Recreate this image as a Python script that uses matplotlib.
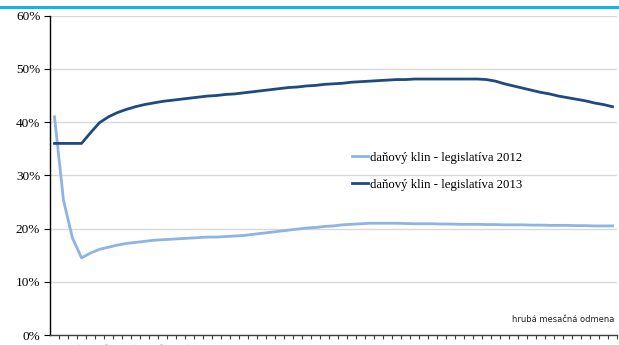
"""
Danovy klin podla hrubej mesacnej odmeny: porovnanie legislativy 2012 a 2013.
Genera el grafico out.png (619x345 px).
"""

import matplotlib
matplotlib.use('Agg')
import matplotlib.pyplot as plt
from matplotlib.ticker import FixedLocator, FuncFormatter

# ==========================================
# DATOS
# ==========================================
# hruba mesacna odmena (EUR), categorias del eje X
ODMENA = list(range(100, 3250, 50))

# danovy klin - legislativa 2012 (%)
KLIN_2012 = [
    41.0, 25.3, 18.2, 14.5, 15.4, 16.1, 16.5, 16.9, 17.2, 17.4,
    17.6, 17.8, 17.9, 18.0, 18.1, 18.2, 18.3, 18.4, 18.4, 18.5,
    18.6, 18.7, 18.9, 19.1, 19.3, 19.5, 19.7, 19.9, 20.1, 20.2,
    20.4, 20.5, 20.7, 20.8, 20.9, 21.0, 21.0, 21.0, 21.0, 20.95,
    20.9, 20.9, 20.9, 20.85, 20.85, 20.8, 20.8, 20.8, 20.75, 20.75,
    20.7, 20.7, 20.7, 20.65, 20.65, 20.6, 20.6, 20.6, 20.55, 20.55,
    20.5, 20.5, 20.5,
]

# danovy klin - legislativa 2013 (%)
KLIN_2013 = [
    36.0, 36.0, 36.0, 36.0, 38.0, 39.9, 41.0, 41.8, 42.4, 42.9,
    43.3, 43.6, 43.9, 44.1, 44.3, 44.5, 44.7, 44.9, 45.0, 45.2,
    45.3, 45.5, 45.7, 45.9, 46.1, 46.3, 46.5, 46.6, 46.8, 46.9,
    47.1, 47.2, 47.3, 47.5, 47.6, 47.7, 47.8, 47.9, 48.0, 48.0,
    48.1, 48.1, 48.1, 48.1, 48.1, 48.1, 48.1, 48.1, 48.0, 47.7,
    47.2, 46.8, 46.4, 46.0, 45.6, 45.3, 44.9, 44.6, 44.3, 44.0,
    43.6, 43.3, 42.9,
]

# ==========================================
# CONSTANTES DE ESTILO
# ==========================================
ETIQUETA_2012 = 'daňový klin - legislatíva 2012'
ETIQUETA_2013 = 'daňový klin - legislatíva 2013'
NOTA_EJE_X = 'hrubá mesačná odmena'

COLOR_2012 = '#8DB4E3'
COLOR_2013 = '#1F4A80'
COLOR_GRID = '#D9D9D9'
COLOR_TITULO = '#14B4E6'
FUENTE = ['Liberation Serif', 'DejaVu Serif']

ARCHIVO_SALIDA = 'out.png'


def generar_grafico():
    """
    Dibuja las dos curvas del danoveho klinu y guarda el PNG.
    """
    plt.rcParams['font.family'] = FUENTE

    fig = plt.figure(figsize=(6.19, 3.45), dpi=100)
    ax = fig.add_axes([50 / 619, 10 / 345, 567 / 619, 319.3 / 345])

    posiciones = list(range(len(ODMENA)))
    ax.plot(posiciones, KLIN_2012, color=COLOR_2012, linewidth=2.0,
            label=ETIQUETA_2012, solid_joinstyle='round')
    ax.plot(posiciones, KLIN_2013, color=COLOR_2013, linewidth=2.0,
            label=ETIQUETA_2013, solid_joinstyle='round')

    ax.set_xlim(-0.5, len(ODMENA) - 0.5)
    ax.set_ylim(0, 60)

    # eje Y: 0% .. 60% con lineas de cuadricula
    ax.set_yticks(range(0, 61, 10))
    ax.yaxis.set_major_formatter(FuncFormatter(lambda v, _: f'{int(v)}%'))
    ax.grid(axis='y', color=COLOR_GRID, linewidth=1.0)
    ax.set_axisbelow(True)
    ax.tick_params(axis='y', length=4, width=0.8, labelsize=9.5, pad=3)

    # eje X: marcas entre categorias, etiquetas cada 3 categorias (recortadas abajo)
    ax.xaxis.set_minor_locator(FixedLocator([p + 0.5 for p in posiciones]))
    ax.set_xticks(posiciones[::3])
    ax.set_xticklabels([str(v) for v in ODMENA[::3]], rotation=90, fontsize=8)
    ax.tick_params(axis='x', which='major', length=0, pad=5.5)
    ax.tick_params(axis='x', which='minor', length=3, width=0.8, color='#404040')

    for lado in ('top', 'right'):
        ax.spines[lado].set_visible(False)
    ax.spines['left'].set_linewidth(1.0)
    ax.spines['bottom'].set_color('#404040')
    ax.spines['bottom'].set_linewidth(1.0)

    ax.legend(loc='center left', bbox_to_anchor=(0.532, 0.513), frameon=False,
              fontsize=9.2, handlelength=1.3, handletextpad=0.15,
              labelspacing=1.2, borderpad=0, borderaxespad=0)

    ax.text(0.995, 0.035, NOTA_EJE_X, transform=ax.transAxes, ha='right',
            va='bottom', fontsize=6, family='DejaVu Sans', color='#222222')

    # linea de titulo (recortada en la parte superior)
    fig.add_artist(plt.Line2D([0, 1], [1 - 6.5 / 345] * 2, color=COLOR_TITULO,
                              linewidth=2.2, transform=fig.transFigure))

    fig.savefig(ARCHIVO_SALIDA, dpi=100)
    plt.close(fig)


if __name__ == '__main__':
    generar_grafico()
